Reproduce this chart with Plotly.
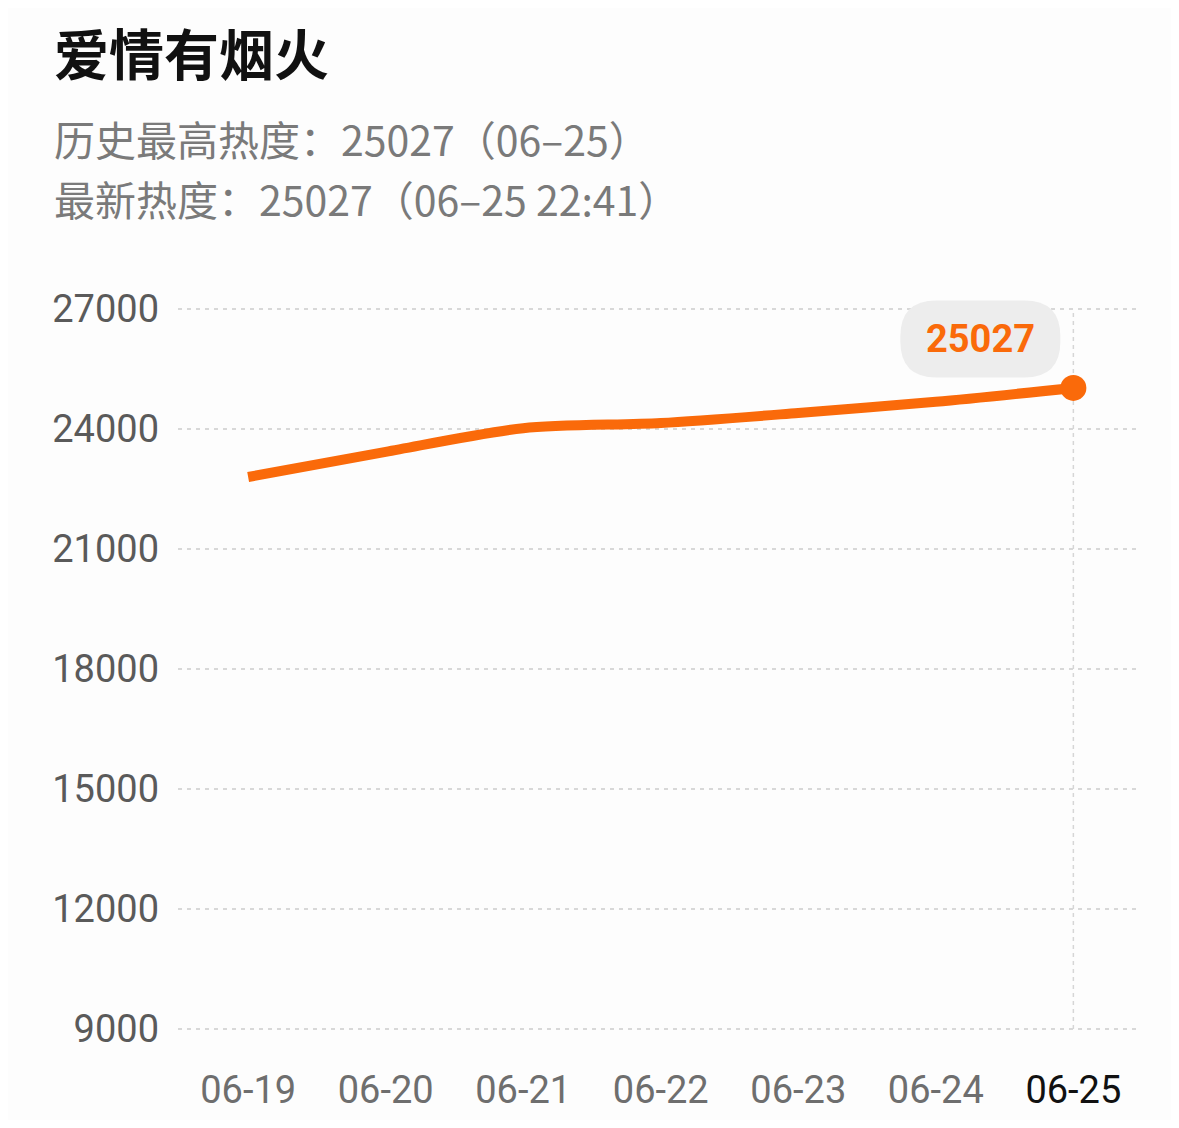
import plotly.graph_objects as go

title_text = "爱情有烟火"
sub_lines = ["历史最高热度：25027（06–25）", "最新热度：25027（06–25 22:41）"]
dates = ["06-19", "06-20", "06-21", "06-22", "06-23", "06-24", "06-25"]
heat = [22800, 23430, 24020, 24150, 24400, 24680, 25027]
y_ticks = [9000, 12000, 15000, 18000, 21000, 24000, 27000]

ORANGE = "#FA6A0A"
W, H = 1163, 1112          # page body adds an 8px margin
ML, MR, MT, MB = 170, 33, 289, 89
PW, PH = W - ML - MR, H - MT - MB


def px_x(xpage):
    return (xpage - 8 - ML) / PW


def px_y(ypage):
    return (H - MB - (ypage - 8)) / PH


xs = list(range(len(dates)))
fig = go.Figure()
fig.add_trace(go.Scatter(
    x=xs, y=heat, mode="lines",
    line=dict(color=ORANGE, width=10, shape="spline", smoothing=0.8),
    hoverinfo="skip", cliponaxis=False,
))
fig.add_trace(go.Scatter(
    x=[xs[-1]], y=[heat[-1]], mode="markers",
    marker=dict(color=ORANGE, size=26),
    hoverinfo="skip", cliponaxis=False,
))

# vertical dashed guide at the last point
fig.add_shape(type="line", xref="x", yref="y", x0=xs[-1], x1=xs[-1],
              y0=y_ticks[0], y1=y_ticks[-1],
              line=dict(color="#D6D6D6", width=1.5, dash="4px,4px"), layer="below")

# rounded bubble behind the label
bw, bh, r = 160, 77, 36
cx, cy = -93, 49
x0, x1 = cx - bw / 2, cx + bw / 2
y0, y1 = cy - bh / 2, cy + bh / 2
path = (f"M {x0 + r},{y0} L {x1 - r},{y0} Q {x1},{y0} {x1},{y0 + r} "
        f"L {x1},{y1 - r} Q {x1},{y1} {x1 - r},{y1} L {x0 + r},{y1} "
        f"Q {x0},{y1} {x0},{y1 - r} L {x0},{y0 + r} Q {x0},{y0} {x0 + r},{y0} Z")
fig.add_shape(type="path", xref="x", yref="y", xsizemode="pixel", ysizemode="pixel",
              xanchor=xs[-1], yanchor=heat[-1], path=path,
              fillcolor="#EDEDED", line=dict(width=0), layer="above")
fig.add_annotation(x=xs[-1], y=heat[-1], xref="x", yref="y", text=f"<b>{heat[-1]}</b>",
                   showarrow=False, xshift=cx, yshift=cy,
                   font=dict(family="Roboto", size=38, color=ORANGE))

# title and subtitle lines
fig.add_annotation(xref="paper", yref="paper", x=px_x(52), y=px_y(9),
                   xanchor="left", yanchor="top", showarrow=False,
                   text=f"<b>{title_text}</b>",
                   font=dict(family="Noto Sans CJK SC", size=55, color="#111111"))
for i, line in enumerate(sub_lines):
    fig.add_annotation(xref="paper", yref="paper", x=px_x(52), y=px_y(138 + i * 60),
                       xanchor="left", yanchor="middle", showarrow=False, text=line,
                       font=dict(family="Noto Sans CJK SC", size=41, color="#7A7A7A"))

ticktext = [f"<span style='color:#111111'>{d}</span>" if i == len(dates) - 1 else d
            for i, d in enumerate(dates)]

fig.update_layout(
    width=W, height=H,
    margin=dict(l=ML, r=MR, t=MT, b=MB),
    paper_bgcolor="#FDFDFD", plot_bgcolor="#FDFDFD",
    showlegend=False,
    xaxis=dict(range=[-0.51, 6.47], tickvals=xs, ticktext=ticktext, showgrid=False,
               zeroline=False, showline=False, ticks="", ticklabelstandoff=33,
               automargin=False,
               tickfont=dict(family="Roboto", size=38, color="#6E6E6E"), fixedrange=True),
    yaxis=dict(range=[8950, 27300], tickvals=y_ticks, ticktext=[str(v) for v in y_ticks],
               showgrid=True, gridcolor="#D8D8D8", gridwidth=2, griddash="4px,5px",
               zeroline=False, showline=False, ticks="", ticklabelstandoff=18,
               automargin=False,
               tickfont=dict(family="Roboto", size=38, color="#5A5A5A"), fixedrange=True),
)
fig.write_html("out.html")
